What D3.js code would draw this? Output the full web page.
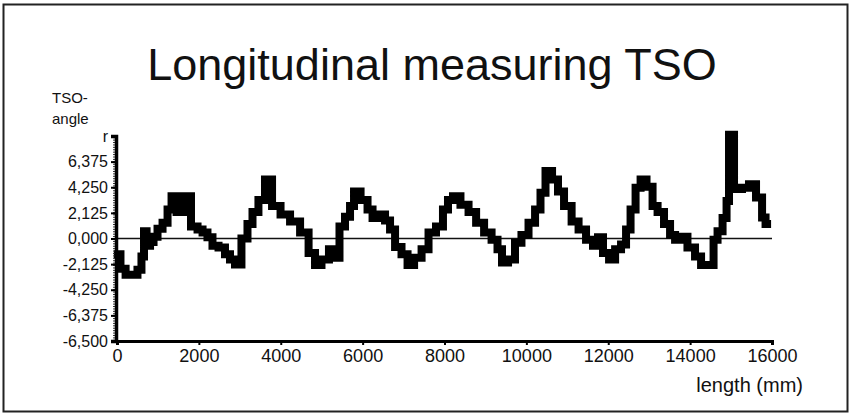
<!DOCTYPE html>
<html>
<head>
<meta charset="utf-8">
<script src="https://cdn.jsdelivr.net/npm/d3@7"></script>
<style>
  body { margin: 0; background: #fff; }
  text { font-family: Arial, "Liberation Sans", sans-serif; fill: #111; }
</style>
</head>
<body>
<div id="chart"></div>
<script>
// values
const lengthMm = [20, 150, 270, 440, 560, 635, 685, 760, 855, 930, 1050, 1175, 1295, 1370, 1540, 1710,
  1905, 2030, 2150, 2270, 2395, 2565, 2710, 2810, 2955, 3125, 3250, 3370, 3540, 3690, 3885, 4105,
  4350, 4595, 4765, 4910, 5080, 5275, 5375, 5495, 5645, 5740, 5840, 6060, 6180, 6305, 6475, 6620,
  6720, 6865, 7035, 7160, 7355, 7525, 7695, 7890, 8035, 8135, 8280, 8500, 8675, 8870, 9065, 9235,
  9355, 9455, 9650, 9795, 9965, 10140, 10285, 10405, 10530, 10725, 10820, 11020, 11190, 11360, 11555,
  11700, 11800, 11945, 12095, 12240, 12385, 12485, 12605, 12730, 12850, 13020, 13145, 13265, 13460,
  13560, 13705, 13825, 14045, 14195, 14340, 14535, 14610, 14730, 14855, 14925, 14975, 15170, 15365,
  15510, 15710, 15805, 15880];
const tsoAngle = [-1.3, -2.5, -3.0, -3.0, -2.6, -1.5, 0.6, -0.6, -0.3, 0.15, 0.8, 1.3, 2.4, 3.5, 2.2, 3.5,
  1.0, 0.75, 0.5, 0.1, -0.6, -0.75, -1.3, -1.75, -2.15, 0.0, 1.2, 2.2, 3.2, 4.9, 2.7, 2.0,
  1.4, 0.5, -1.2, -2.2, -1.75, -0.9, -1.6, 1.0, 1.8, 2.7, 3.9, 3.2, 2.4, 1.7, 2.0, 1.5,
  0.75, -0.7, -1.3, -2.2, -1.6, -0.9, 0.5, 1.0, 2.4, 3.2, 3.5, 2.8, 2.2, 1.3, 0.5, -0.1,
  -0.9, -2.0, -1.75, -0.35, 0.3, 1.3, 2.4, 3.8, 5.6, 4.9, 3.9, 2.7, 1.4, 0.75, -0.1,
  -0.6, 0.1, -1.2, -1.75, -0.9, -0.5, 0.75, 2.4, 4.2, 4.9, 4.3, 2.7, 2.2, 1.2,
  0.3, -0.1, 0.15, -0.75, -1.5, -2.2, -2.2, -0.1, 0.6, 1.7, 3.1, 8.6, 4.1, 4.2,
  4.5, 3.4, 1.75, 1.2];

const yTickValues = [-8.5, -6.375, -4.25, -2.125, 0, 2.125, 4.25, 6.375, 8.5];
const yTickLabels = ["-6,500", "-6,375", "-4,250", "-2,125", "0,000", "2,125", "4,250", "6,375", "r"];
const xTickValues = [0, 2000, 4000, 6000, 8000, 10000, 12000, 14000, 16000];

const width = 850, height = 415;
const svg = d3.select("#chart").append("svg")
  .attr("width", width)
  .attr("height", height);

// frame round the whole picture
svg.append("rect")
  .attr("x", 3.5).attr("y", 4.5)
  .attr("width", 844).attr("height", 407)
  .style("fill", "none")
  .style("stroke", "#222")
  .style("stroke-width", 2);

svg.append("text")
  .attr("x", 432).attr("y", 80)
  .attr("text-anchor", "middle")
  .style("font-size", "45px")
  .text("Longitudinal measuring TSO");

svg.append("text").attr("x", 52).attr("y", 103).style("font-size", "15px").text("TSO-");
svg.append("text").attr("x", 52).attr("y", 124).style("font-size", "15px").text("angle");

const x = d3.scaleLinear().domain([0, 16000]).range([117, 772]);
const y = d3.scaleLinear().domain([-8.5, 8.5]).range([341, 136]);

// zero line
svg.append("line")
  .attr("x1", x(0)).attr("x2", x(16000))
  .attr("y1", y(0)).attr("y2", y(0))
  .style("stroke", "#111")
  .style("stroke-width", 1.5);

// the measured line
const points = lengthMm.map((d, i) => [d, tsoAngle[i]]);
const line = d3.line()
  .x(d => x(d[0]))
  .y(d => y(d[1]))
  .curve(d3.curveStep);

svg.append("path")
  .datum(points)
  .attr("d", line)
  .style("fill", "none")
  .style("stroke", "#000")
  .style("stroke-width", 8)
  .style("stroke-linejoin", "miter")
  .style("stroke-linecap", "square");

// y axis, with a comb of minor ticks
const yMinor = d3.axisLeft(y).ticks(80).tickSize(3).tickFormat("");
svg.append("g")
  .attr("transform", `translate(${x(0) - 1},0)`)
  .call(yMinor)
  .call(g => g.select(".domain").remove())
  .call(g => g.selectAll("line").style("stroke", "#333"));

const yAxis = d3.axisLeft(y)
  .tickValues(yTickValues)
  .tickSize(5)
  .tickPadding(3)
  .tickFormat((d, i) => yTickLabels[i]);
svg.append("g")
  .attr("transform", `translate(${x(0) - 1},0)`)
  .call(yAxis)
  .call(g => g.select(".domain").style("stroke", "#000").style("stroke-width", 3.5))
  .call(g => g.selectAll("line").style("stroke", "#000").style("stroke-width", 2))
  .call(g => g.selectAll("text").style("font-size", "16px").style("font-family", "Arial, 'Liberation Sans', sans-serif").style("fill", "#111"));

const xAxis = d3.axisBottom(x)
  .tickValues(xTickValues)
  .tickSize(4)
  .tickPadding(4)
  .tickFormat(d3.format("d"));
svg.append("g")
  .attr("transform", `translate(0,${y(-8.5)})`)
  .call(xAxis)
  .call(g => g.select(".domain").style("stroke", "#000").style("stroke-width", 3))
  .call(g => g.selectAll("line").style("stroke", "#000").style("stroke-width", 2))
  .call(g => g.selectAll("text").style("font-size", "18px").style("font-family", "Arial, 'Liberation Sans', sans-serif").style("fill", "#111"));

svg.append("text")
  .attr("x", 803).attr("y", 392)
  .attr("text-anchor", "end")
  .style("font-size", "20px")
  .text("length (mm)");
</script>
</body>
</html>
